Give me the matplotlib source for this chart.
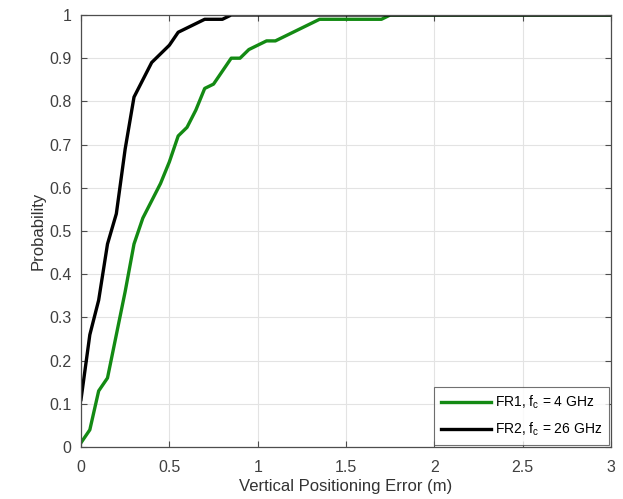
import numpy as np
import matplotlib
matplotlib.use('Agg')
import matplotlib.pyplot as plt

plt.rcParams['font.family'] = ['Liberation Sans', 'DejaVu Sans']
plt.rcParams['mathtext.fontset'] = 'custom'
plt.rcParams['mathtext.rm'] = 'Liberation Sans'
plt.rcParams['mathtext.it'] = 'Liberation Sans'

# error grid (m)
err_fr1 = [0, 0.05, 0.1, 0.15, 0.2, 0.25, 0.3, 0.35, 0.4, 0.45, 0.5, 0.55, 0.6,
           0.65, 0.7, 0.75, 0.8, 0.85, 0.9, 0.95, 1.0, 1.05, 1.1, 1.15, 1.2,
           1.25, 1.3, 1.35, 1.7, 1.75, 3.0]
cdf_fr1 = [0.01, 0.04, 0.13, 0.16, 0.26, 0.36, 0.47, 0.53, 0.57, 0.61, 0.66, 0.72, 0.74,
           0.78, 0.83, 0.84, 0.87, 0.90, 0.90, 0.92, 0.93, 0.94, 0.94, 0.95, 0.96,
           0.97, 0.98, 0.99, 0.99, 1.0, 1.0]

err_fr2 = [0, 0.05, 0.1, 0.15, 0.2, 0.25, 0.3, 0.35, 0.4, 0.45, 0.5, 0.55, 0.6,
           0.65, 0.7, 0.75, 0.8, 0.85, 3.0]
cdf_fr2 = [0.11, 0.26, 0.34, 0.47, 0.54, 0.69, 0.81, 0.85, 0.89, 0.91, 0.93, 0.96, 0.97,
           0.98, 0.99, 0.99, 0.99, 1.0, 1.0]

labels = [r'FR1, f$_\mathregular{c}$ = 4 GHz', r'FR2, f$_\mathregular{c}$ = 26 GHz']

fig = plt.figure(figsize=(6.23, 4.99), dpi=100)
ax = fig.add_axes([0.130, 0.104, 0.851, 0.866])

ax.plot(err_fr1, cdf_fr1, color='#138a13', lw=2.4, label=labels[0])
ax.plot(err_fr2, cdf_fr2, color='black', lw=2.4, label=labels[1])

ax.set_xlim(0, 3)
ax.set_ylim(0, 1)
ax.set_xticks(np.arange(0, 3.01, 0.5))
ax.set_xticklabels(['0', '0.5', '1', '1.5', '2', '2.5', '3'])
ax.set_yticks(np.arange(0, 1.01, 0.1))
ax.set_yticklabels(['0'] + ['%.1f' % v for v in np.arange(0.1, 0.95, 0.1)] + ['1'])
ax.tick_params(direction='in', labelsize=11.5, labelcolor='#404040', colors='#4d4d4d',
               length=4, top=True, right=True)
ax.tick_params(axis='x', pad=9)
ax.tick_params(axis='y', pad=7)
ax.grid(True, color='#e3e3e3', lw=0.8)
ax.set_axisbelow(True)
for s in ax.spines.values():
    s.set_color('#4d4d4d')
    s.set_linewidth(0.9)

ax.set_xlabel('Vertical Positioning Error (m)', fontsize=12, color='#333333', labelpad=3)
ax.set_ylabel('Probability', fontsize=12, color='#333333', labelpad=2)

leg = ax.legend(loc='lower right', fontsize=10, frameon=True, fancybox=False,
                edgecolor='#4d4d4d', borderaxespad=0.15, handlelength=3.6,
                handletextpad=0.3, labelspacing=0.7, borderpad=0.5)
leg.get_frame().set_linewidth(0.8)

fig.savefig('out.png', dpi=100)
